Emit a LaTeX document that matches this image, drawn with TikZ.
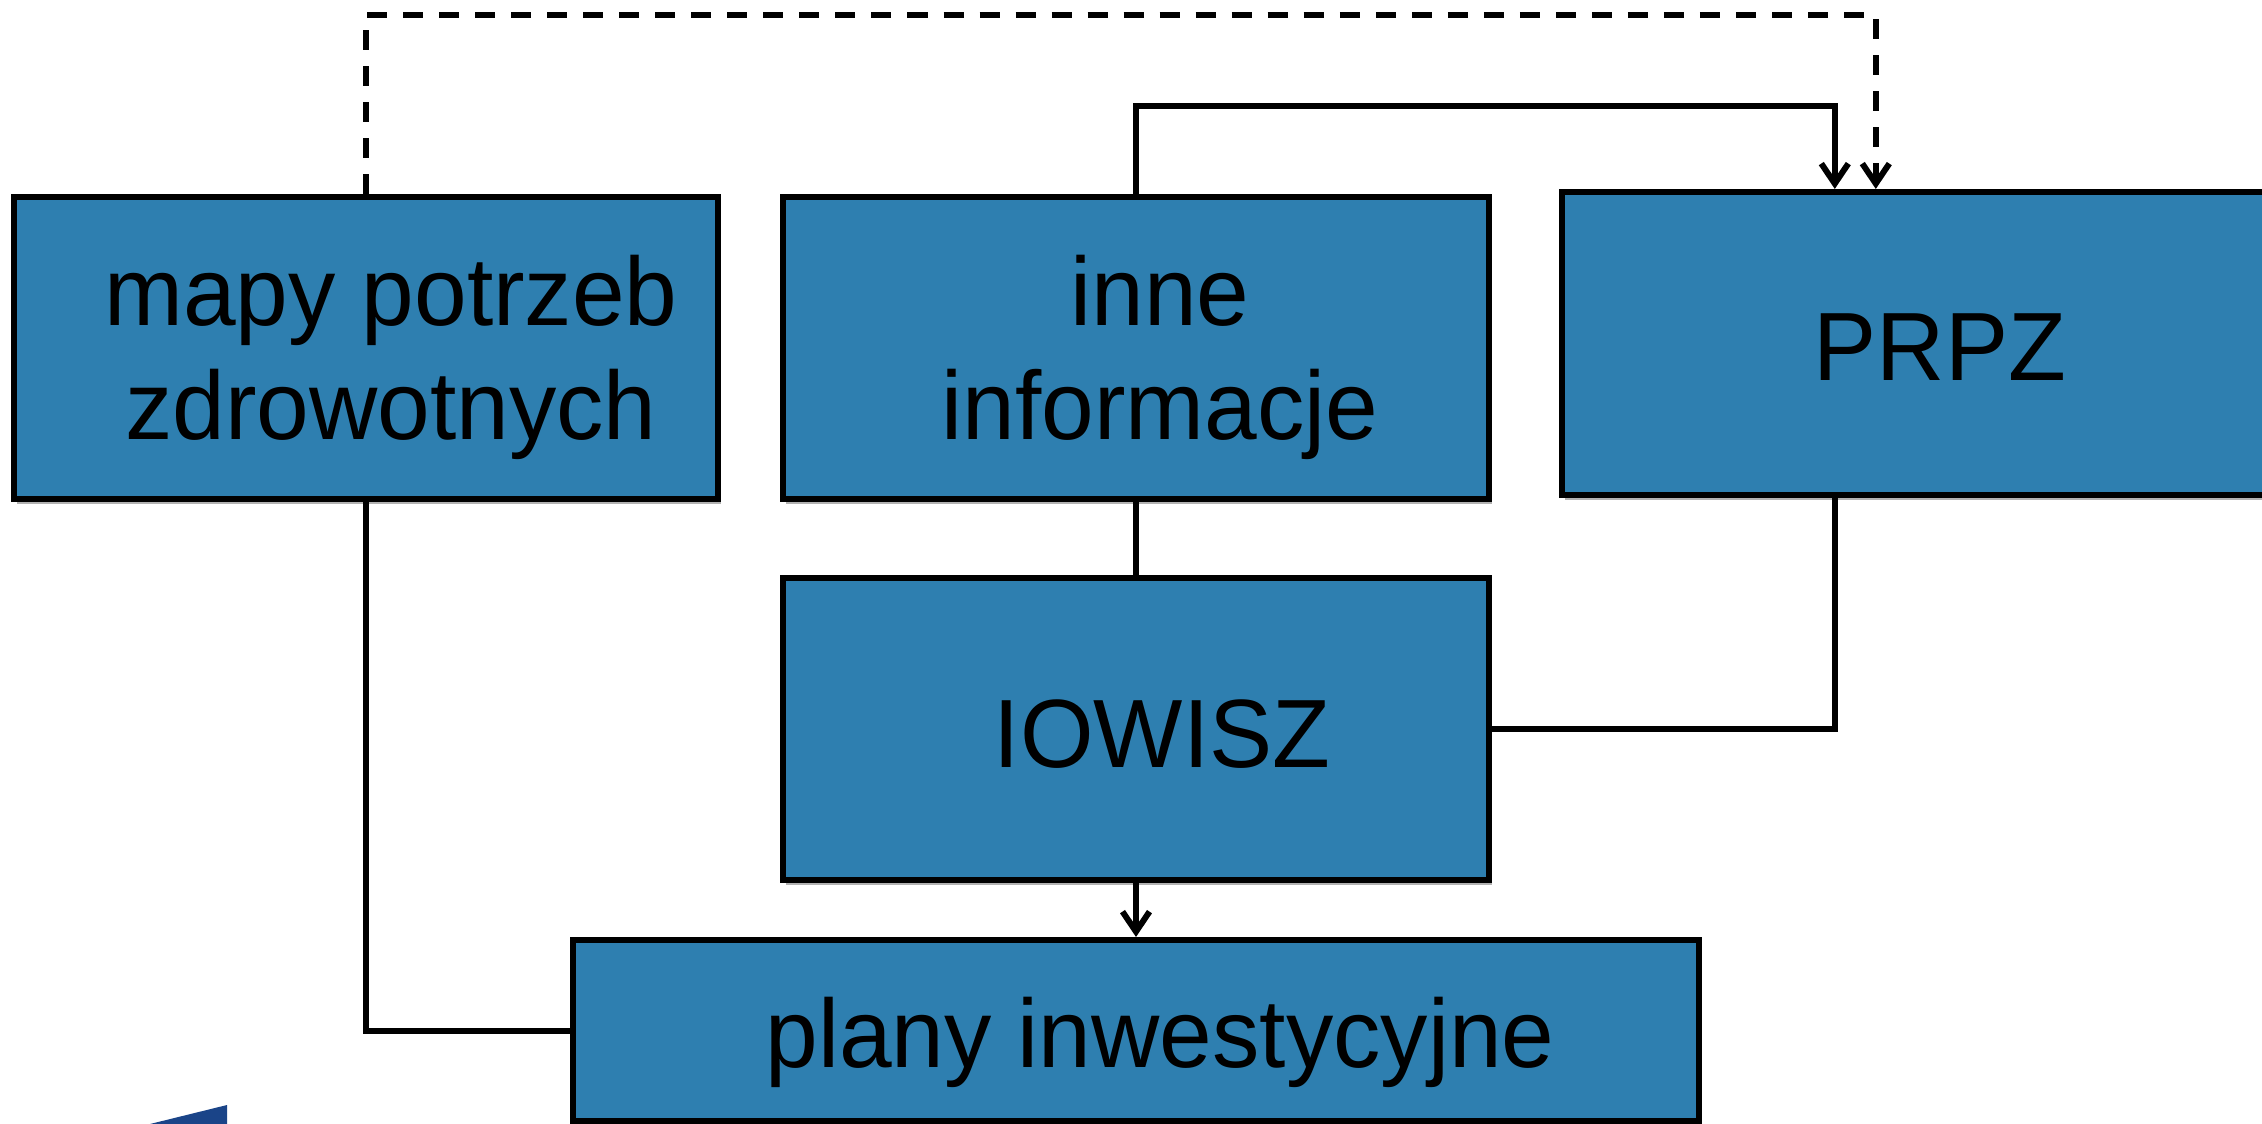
\documentclass[tikz,border=0pt]{standalone}
\usepackage{fontspec}
\setmainfont[FakeStretch=0.975]{Liberation Sans}
\usetikzlibrary{arrows.meta,shadows,calc}
\definecolor{boxblue}{RGB}{46,127,176}
\definecolor{cornerblue}{RGB}{26,68,136}
\begin{document}
\begin{tikzpicture}[x=0.01cm,y=-0.01cm,
  box/.style={draw=black, line width=1.7pt, fill=boxblue, inner sep=0pt,
    drop shadow={shadow xshift=0.03cm, shadow yshift=-0.05cm, opacity=0.3, fill=black}},
  lbl/.style={font=\fontsize{27.6}{32.4}\selectfont, align=center, inner sep=0pt, text=black},
  conn/.style={line width=1.7pt, draw=black},
  tip/.style={-{Straight Barb[length=0.2cm, width=0.27cm, line width=1.7pt]}},
  dashline/.style={dash pattern=on 0.2cm off 0.16cm}
]
\useasboundingbox (0,0) rectangle (2262,1123);
\clip (0,0) rectangle (2262,1123);
\fill[white] (0,0) rectangle (2262,1123);

\node[box, minimum width=7.04cm, minimum height=3.02cm] (mapy) at (366,348) {};
\node[box, minimum width=7.06cm, minimum height=3.02cm] (inne) at (1136,348) {};
\node[box, minimum width=7.4cm, minimum height=3.03cm] (prpz) at (1932,343.5) {};
\node[box, minimum width=7.06cm, minimum height=3.02cm] (iowisz) at (1136,729) {};
\node[box, minimum width=11.26cm, minimum height=1.81cm] (plany) at (1136,1030.5) {};

\node[lbl] (tmapy) at (391,357) {mapy potrzeb\\zdrowotnych};
\node[lbl] (tinne) at (1160,357) {inne\\informacje};
\node[lbl, anchor=base] (tprpz) at (1940,380) {PRPZ};
\node[lbl, anchor=base] (tiowisz) at (1162,767) {IOWISZ};
\node[lbl, anchor=base] (tplany) at (1160,1067) {plany inwestycyjne};

\coordinate (pA) at ($(prpz.north west)+(276,0)$);
\coordinate (pB) at ($(prpz.north west)+(317,0)$);
\coordinate (dtop) at (0,15);
\coordinate (stop) at (0,106);

\draw[conn, dashline, tip] (mapy.north) |- (pB |- dtop) -- (pB);
\draw[conn, tip] (inne.north) |- (pA |- stop) -- (pA);
\draw[conn] (inne.south) -- (iowisz.north);
\draw[conn] (iowisz.east) -| (pA |- prpz.south);
\draw[conn, tip] (iowisz.south) -- (plany.north);
\draw[conn] (mapy.south) |- (plany.west);

\fill[cornerblue] (150,1124) -- (227,1105) -- (227,1124) -- cycle;
\end{tikzpicture}
\end{document}
